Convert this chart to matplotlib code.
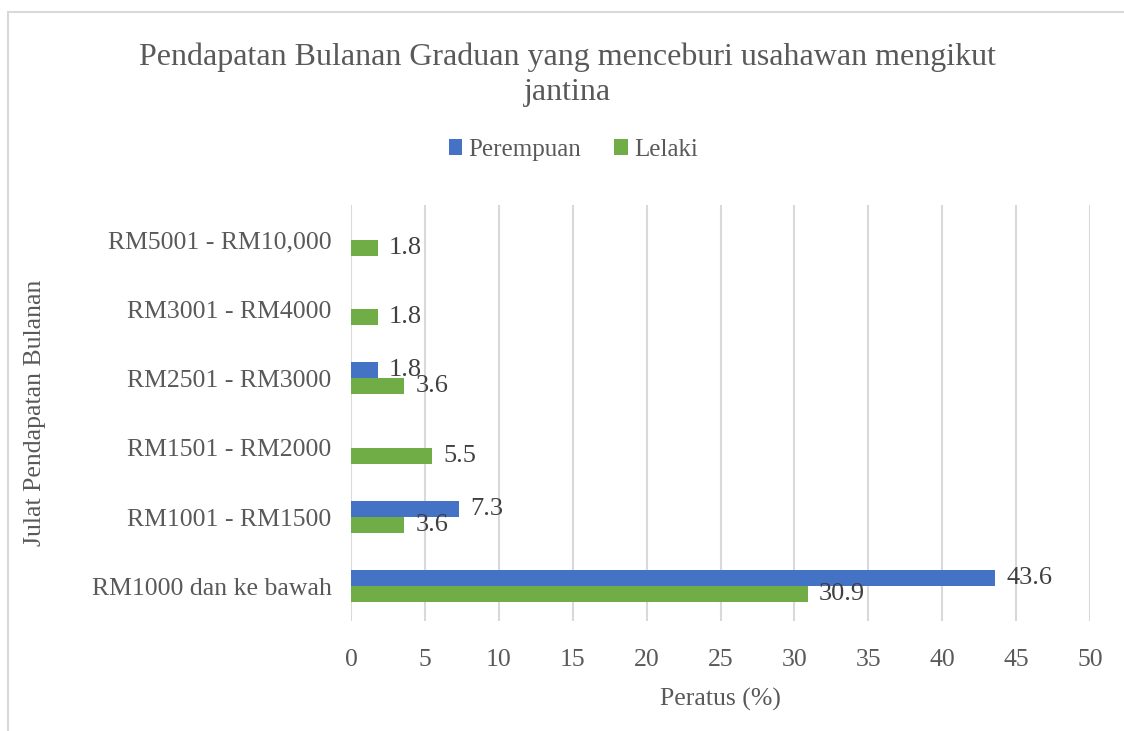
import matplotlib.pyplot as plt
import numpy as np
from matplotlib.patches import Rectangle

categories = ["RM1000 dan ke bawah", "RM1001 - RM1500", "RM1501 - RM2000",
              "RM2501 - RM3000", "RM3001 - RM4000", "RM5001 - RM10,000"]
perempuan = [43.6, 7.3, 0, 1.8, 0, 0]
lelaki = [30.9, 3.6, 5.5, 3.6, 1.8, 1.8]
xticks = [0, 5, 10, 15, 20, 25, 30, 35, 40, 45, 50]

plt.rcParams['font.family'] = ['Liberation Serif', 'DejaVu Serif']
txt = '#595959'

fig = plt.figure(figsize=(11.24, 7.31), dpi=100)
ax = fig.add_axes([351/1124, 1 - 621/731, (1090-351)/1124, (621-205)/731])

y = np.arange(len(categories))
h = 0.23
bp = ax.barh(y + h/2, perempuan, height=h, color='#4472C4', label='Perempuan', zorder=3)
bl = ax.barh(y - h/2, lelaki, height=h, color='#70AD47', label='Lelaki', zorder=3)

ax.bar_label(bp, labels=[f"{v:.1f}" if v else "" for v in perempuan], padding=8,
             fontsize=19, color='#404040')
ax.bar_label(bl, labels=[f"{v:.1f}" if v else "" for v in lelaki], padding=8,
             fontsize=19, color='#404040')

ax.set_xlim(0, 50)
ax.set_ylim(-0.5, len(categories) - 0.5)
ax.set_xticks(xticks)
ax.set_yticks(y)
ax.set_yticklabels(categories)
ax.tick_params(axis='both', length=0, labelsize=18.5, colors=txt)
ax.tick_params(axis='x', pad=20)
ax.tick_params(axis='y', pad=14)
for s in ax.spines.values():
    s.set_visible(False)
ax.grid(axis='x', color='#D9D9D9', linewidth=1.5, zorder=0)
ax.set_axisbelow(True)

ax.set_xlabel("Peratus (%)", fontsize=18.5, color=txt, labelpad=12)
ax.set_ylabel("Julat Pendapatan Bulanan", fontsize=18.5, color=txt)
ax.yaxis.set_label_coords(-(351 - 46)/(1090 - 351), 0.5, transform=ax.transAxes)

fig.text(0.505, 1 - 75/731, "Pendapatan Bulanan Graduan yang menceburi usahawan mengikut\njantina",
         ha='center', va='center', fontsize=23, color=txt, linespacing=1.25)

leg = fig.legend(handles=[bp, bl], loc='center', bbox_to_anchor=(0.51, 1 - 150/731),
                 ncol=2, frameon=False, fontsize=18, handlelength=0.55, handleheight=0.6,
                 handletextpad=0.25, columnspacing=1.3)
for t in leg.get_texts():
    t.set_color(txt)

fig.patches.append(Rectangle((8/1124, -0.1), 1.2, 1.1 - 12/731, transform=fig.transFigure,
                             fill=False, edgecolor='#D9D9D9', linewidth=1.5))

fig.savefig("out.png", dpi=100)
